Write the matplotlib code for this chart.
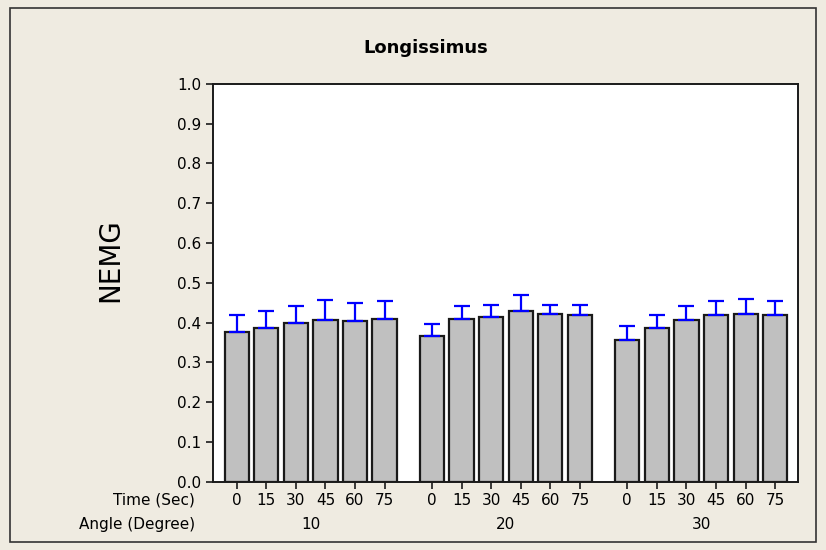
import numpy as np
import matplotlib
matplotlib.use("Agg")
import matplotlib.pyplot as plt
from matplotlib.patches import Rectangle

# mean NEMG per hold time, one list per angle
times = ["0", "15", "30", "45", "60", "75"]
angles = ["10", "20", "30"]
nemg_10 = [0.375, 0.386, 0.398, 0.407, 0.404, 0.409]
nemg_20 = [0.366, 0.409, 0.413, 0.430, 0.421, 0.418]
nemg_30 = [0.357, 0.386, 0.407, 0.418, 0.422, 0.418]
err_10 = [0.043, 0.042, 0.044, 0.049, 0.046, 0.044]
err_20 = [0.029, 0.033, 0.032, 0.038, 0.024, 0.027]
err_30 = [0.035, 0.032, 0.035, 0.035, 0.038, 0.035]

bg = "#EFEBE1"
plt.rcParams["font.family"] = "DejaVu Sans"

fig = plt.figure(figsize=(8.26, 5.5), dpi=100, facecolor=bg)
ax = fig.add_axes([0.2575, 0.1245, 0.709, 0.7228])
ax.set_facecolor("white")

# outer frame
fig.patches.append(Rectangle((10 / 826, 1 - 542 / 550), 806 / 826, 534 / 550,
                             transform=fig.transFigure, fill=False,
                             edgecolor="#333333", linewidth=1.2))

gap = 6.6
means = [nemg_10, nemg_20, nemg_30]
errs = [err_10, err_20, err_30]
xpos, xlab = [], []
for g in range(len(angles)):
    x = g * gap + np.arange(len(times))
    ax.bar(x, means[g], width=0.82, color="#C0C0C0", edgecolor="#1a1a1a",
           linewidth=1.6, zorder=2)
    ax.errorbar(x, means[g], yerr=[np.zeros(len(times)), errs[g]], fmt="none",
                ecolor="#0000FF", elinewidth=1.6, capsize=5.5, capthick=1.6,
                zorder=3)
    xpos.extend(x)
    xlab.extend(times)
    # angle label under each group
    ax.annotate(angles[g], xy=(x.mean(), 0), xycoords=("data", "axes fraction"),
                xytext=(0, -30.6), textcoords="offset points", ha="center",
                va="center", fontsize=11)

ax.set_xlim(-0.81, 2 * gap + 5 + 0.78)
ax.set_ylim(0, 1.0)
ax.set_yticks(np.arange(0, 1.01, 0.1))
ax.set_yticklabels([f"{v:.1f}" for v in np.arange(0, 1.01, 0.1)])
ax.set_xticks(xpos)
ax.set_xticklabels(xlab)
ax.tick_params(direction="out", length=5, width=1.2, labelsize=11, pad=3,
               color="#1a1a1a")
for s in ax.spines.values():
    s.set_linewidth(1.4)
    s.set_color("#1a1a1a")

fig.text(195 / 826, 1 - 500 / 550, "Time (Sec)", ha="right", va="center",
         fontsize=11)
fig.text(195 / 826, 1 - 524 / 550, "Angle (Degree)", ha="right", va="center",
         fontsize=11)
fig.text(110 / 826, 1 - 260 / 550, "NEMG", rotation=90, ha="center",
         va="center", fontsize=20)
fig.text(426 / 826, 1 - 48 / 550, "Longissimus", ha="center", va="center",
         fontsize=13, fontweight="bold")

fig.savefig("out.png", dpi=100, facecolor=bg)
